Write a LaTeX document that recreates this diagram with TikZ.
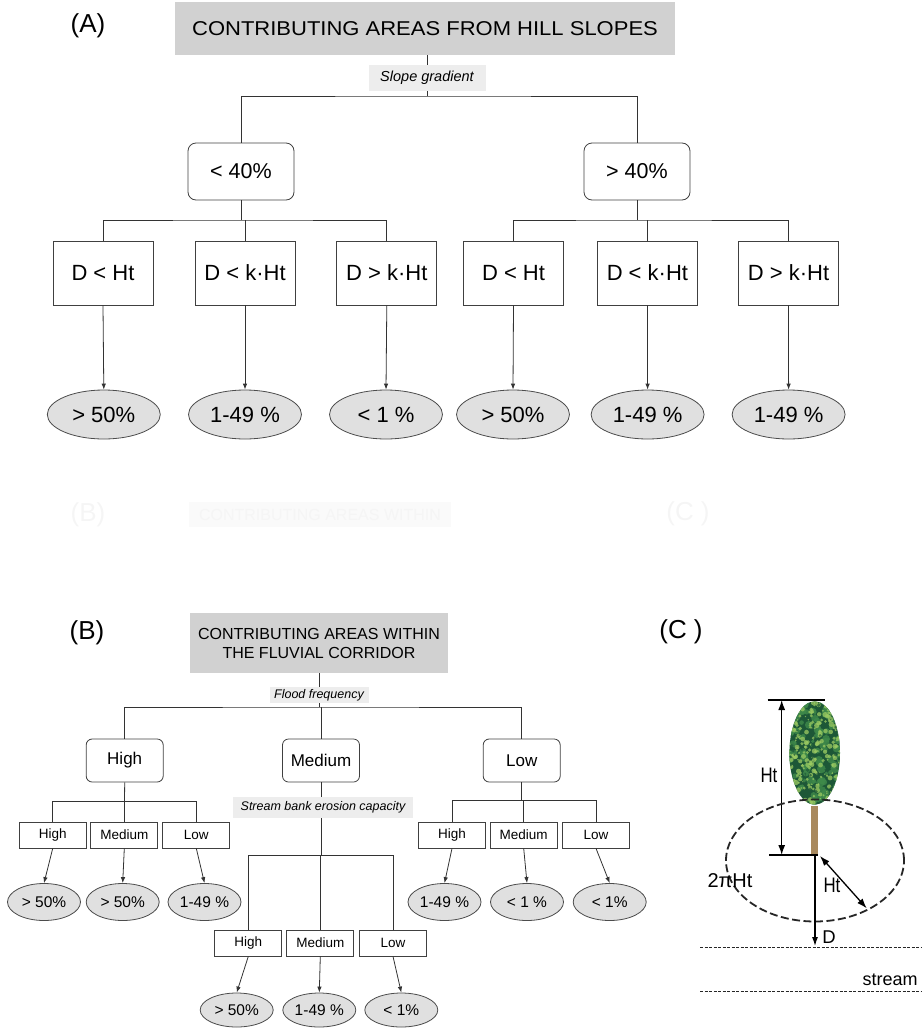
\documentclass[tikz,border=0pt]{standalone}
\usepackage{fontspec}
\setmainfont{Liberation Sans}
\newfontfamily\widesans[FakeStretch=1.1]{Liberation Sans}
\newfontfamily\narrowsans[FakeStretch=0.8]{Liberation Sans}
\usepackage{tikz}
\usetikzlibrary{shapes.geometric}
\usetikzlibrary{arrows.meta}

\definecolor{crowndark}{HTML}{1D5737}
\definecolor{crownmid}{HTML}{3F8A4A}
\definecolor{crownlight}{HTML}{9CCB62}
\definecolor{trunkbrown}{HTML}{A8895E}

\tikzset{
  panel/.style={font=\fontsize{26}{30}\selectfont},
  headbox/.style={fill=black!18, inner sep=0pt},
  cond/.style={draw=black!75, rounded corners=8pt, minimum width=106pt, minimum height=57pt, font=\fontsize{21.5}{25}\selectfont},
  crit/.style={draw=black!75, minimum width=100pt, minimum height=64pt, inner sep=0pt, font=\fontsize{22}{26}\selectfont},
  share/.style={ellipse, draw=black!70, fill=black!12, minimum width=113pt, minimum height=49pt, inner sep=0pt, font=\fontsize{22}{26}\selectfont},
  factor/.style={fill=black!7, inner sep=0pt, font=\fontsize{14.5}{17}\selectfont\itshape},
  condsm/.style={draw=black!75, rounded corners=6pt, minimum width=77pt, minimum height=43pt, font=\fontsize{17}{20}\selectfont},
  critsm/.style={draw=black!75, minimum width=67pt, minimum height=26pt, inner sep=0pt, font=\fontsize{13.5}{16}\selectfont},
  sharesm/.style={ellipse, draw=black!70, fill=black!12, minimum width=73pt, minimum height=37pt, inner sep=0pt, font=\fontsize{15.5}{18}\selectfont},
  factorsm/.style={fill=black!7, inner sep=0pt, font=\fontsize{12.5}{15}\selectfont\itshape},
  ghost/.style={text=black!4},
  flow/.style={-{Latex[length=6pt,width=4.5pt]}},
  bar/.style={line width=1.6pt},
  measure/.style={line width=1.3pt, {Latex[length=10pt,width=7pt]}-{Latex[length=10pt,width=7pt]}},
}

\begin{document}
\begin{tikzpicture}[x=1pt, y=-1pt, line width=0.8pt, draw=black!80]
  \useasboundingbox (0,0) rectangle (921,1028);

  % (A) hill slopes
  \node[panel] (labA) at (88,26) {(A)};
  \node[headbox, minimum width=500pt, minimum height=53pt, font=\widesans\fontsize{20}{24}\selectfont] (headA) at (425,28.5) {CONTRIBUTING AREAS FROM HILL SLOPES};
  \node[cond] (lowgrad) at (241,171.5) {< 40\%};
  \node[cond] (highgrad) at (637,171.5) {> 40\%};
  \node[crit] (a1) at (103,273) {D < Ht};
  \node[crit] (a2) at (245,273) {D < k·Ht};
  \node[crit] (a3) at (386.8,273) {D > k·Ht};
  \node[crit] (a4) at (513.5,273) {D < Ht};
  \node[crit] (a5) at (647.4,273) {D < k·Ht};
  \node[crit] (a6) at (788.5,273) {D > k·Ht};
  \node[share] (ra1) at (103.8,414.5) {> 50\%};
  \node[share] (ra2) at (245,414.5) {1-49 \%};
  \node[share] (ra3) at (386,414.5) {< 1 \%};
  \node[share] (ra4) at (513,414.5) {> 50\%};
  \node[share] (ra5) at (647.6,414.5) {1-49 \%};
  \node[share] (ra6) at (788.6,414.5) {1-49 \%};

  \coordinate (forkA) at (427,96);
  \coordinate (forkA1) at (241,220);
  \coordinate (forkA2) at (637,220);
  \draw (headA.south -| forkA) -- (forkA);
  \draw (lowgrad.north) |- (forkA) -| (highgrad.north);
  \draw (lowgrad.south) -- (forkA1);
  \draw (a1.north) |- (forkA1) -| (a3.north);
  \draw (a2.north) -- (a2.north |- forkA1);
  \draw (highgrad.south) -- (forkA2);
  \draw (a4.north) |- (forkA2) -| (a6.north);
  \draw (a5.north) -- (a5.north |- forkA2);
  \draw[flow] (a1.south) -- (ra1.north);
  \draw[flow] (a2.south) -- (ra2.north);
  \draw[flow] (a3.south) -- (ra3.north);
  \draw[flow] (a4.south) -- (ra4.north);
  \draw[flow] (a5.south) -- (ra5.north);
  \draw[flow] (a6.south) -- (ra6.north);
  \node[factor, minimum width=117pt, minimum height=26pt] (slope) at (427,78) {Slope gradient};

  % faint show-through of the next page
  \node[panel, ghost] (ghostB) at (88,515) {(B)};
  \node[fill=black!2, minimum width=262pt, minimum height=25pt, ghost, font=\fontsize{16}{19}\selectfont] (ghosthead) at (320,514.5) {CONTRIBUTING AREAS WITHIN};
  \node[panel, ghost] (ghostC) at (688,514) {(C )};

  % (B) fluvial corridor
  \node[panel] (labB) at (87,633) {(B)};
  \node[headbox, minimum width=258pt, minimum height=60pt, align=center, font=\fontsize{16}{19}\selectfont] (headB) at (319,643) {CONTRIBUTING AREAS WITHIN\\ THE FLUVIAL CORRIDOR};
  \node[condsm] (hB) at (124.7,760.5) {High};
  \node[condsm] (mB) at (321,760.5) {Medium};
  \node[condsm] (lB) at (521.7,760.5) {Low};
  \node[critsm] (hh) at (52.7,835) {High};
  \node[critsm] (hm) at (124.3,835) {Medium};
  \node[critsm] (hl) at (196.3,835) {Low};
  \node[critsm] (mh) at (248.3,943) {High};
  \node[critsm] (mm) at (320.3,943) {Medium};
  \node[critsm] (ml) at (393,943) {Low};
  \node[critsm] (lh) at (452,835) {High};
  \node[critsm] (lm) at (523.7,835) {Medium};
  \node[critsm] (ll) at (596,835) {Low};
  \node[sharesm] (rhh) at (44,902) {> 50\%};
  \node[sharesm] (rhm) at (122.7,902) {> 50\%};
  \node[sharesm] (rhl) at (204.5,902) {1-49 \%};
  \node[sharesm, minimum height=34pt] (rmh) at (236.7,1010) {> 50\%};
  \node[sharesm, minimum height=34pt] (rmm) at (319.3,1010) {1-49 \%};
  \node[sharesm, minimum height=34pt] (rml) at (401.3,1010) {< 1\%};
  \node[sharesm] (rlh) at (444.5,902) {1-49 \%};
  \node[sharesm] (rlm) at (527,902) {< 1 \%};
  \node[sharesm] (rll) at (609.7,902) {< 1\%};

  \coordinate (forkB) at (319,707);
  \coordinate (forkBh) at (124.5,801.7);
  \coordinate (forkBm) at (321,855.7);
  \coordinate (forkBl) at (521.7,800.7);
  \draw (headB.south) -- (forkB);
  \draw (hB.north) |- (forkB) -| (lB.north);
  \draw (mB.north) -- (mB.north |- forkB);
  \draw (hB.south) -- (forkBh);
  \draw (hh.north) |- (forkBh) -| (hl.north);
  \draw (hm.north) -- (hm.north |- forkBh);
  \draw (mB.south) -- (forkBm);
  \draw (mh.north) |- (forkBm) -| (ml.north);
  \draw (mm.north) -- (mm.north |- forkBm);
  \draw (lB.south) -- (forkBl);
  \draw (lh.north) |- (forkBl) -| (ll.north);
  \draw (lm.north) -- (lm.north |- forkBl);
  \draw[flow] (hh.south) -- (rhh.north);
  \draw[flow] (hm.south) -- (rhm.north);
  \draw[flow] (hl.south) -- (rhl.north);
  \draw[flow] (mh.south) -- (rmh.north);
  \draw[flow] (mm.south) -- (rmm.north);
  \draw[flow] (ml.south) -- (rml.north);
  \draw[flow] (lh.south) -- (rlh.north);
  \draw[flow] (lm.south) -- (rlm.north);
  \draw[flow] (ll.south) -- (rll.north);
  \node[factorsm, minimum width=99pt, minimum height=16pt] (flood) at (319,695) {Flood frequency};
  \node[factorsm, minimum width=180pt, minimum height=21pt] (bank) at (323,807.7) {Stream bank erosion capacity};

  % (C) tree and stream
  \node[panel] (labC) at (681,632) {(C )};
  \begin{scope}
    \clip (814.7,753) ellipse [x radius=25.3pt, y radius=51.7pt];
    \fill[crowndark] (788,700) rectangle (842,806);
    \pgfmathsetseed{12}
    \foreach \i in {1,...,120}
      \fill[crownmid, opacity=0.8] ({814.7+27*rand},{753+53*rand}) circle [radius={1.5pt+3pt*rnd}];
    \foreach \i in {1,...,260}
      \fill[crownlight, opacity=0.75] ({814.7+27*rand},{753+53*rand}) circle [radius={0.7pt+2pt*rnd}];
    \foreach \i in {1,...,90}
      \fill[crowndark, opacity=0.7] ({814.7+27*rand},{753+53*rand}) circle [radius={0.6pt+1.4pt*rnd}];
  \end{scope}
  \fill[trunkbrown] (811,806) rectangle (818.3,855);

  \coordinate (topL) at (767.7,700);
  \coordinate (topR) at (825,700);
  \coordinate (baseL) at (769.3,855);
  \coordinate (baseR) at (818.3,855);
  \coordinate (htTop) at (781.7,700);
  \coordinate (htBase) at (781.7,855);
  \coordinate (root) at (815,855);
  \coordinate (bankPt) at (815,946);
  \coordinate (radStart) at (820,856);
  \coordinate (radEnd) at (866.7,908.3);
  \coordinate (bankL) at (700,947.3);
  \coordinate (bankR) at (921,947.3);
  \coordinate (streamL) at (700,991.7);
  \coordinate (streamR) at (921,991.7);

  \draw[bar, black] (topL) -- (topR);
  \draw[bar, black] (baseL) -- (baseR);
  \draw[measure, black] (htTop) -- (htBase);
  \draw[line width=1.8pt, black!85, dash pattern=on 8pt off 3.5pt] (815,860.5) ellipse [x radius=89pt, y radius=61pt];
  \draw[line width=1.1pt, black, -{Latex[length=9pt,width=6pt]}] (root) -- (bankPt);
  \draw[measure, black] (radStart) -- (radEnd);
  \draw[line width=0.9pt, black!85, dash pattern=on 3pt off 1.5pt] (bankL) -- (bankR);
  \draw[line width=0.9pt, black!85, dash pattern=on 3pt off 1.5pt] (streamL) -- (streamR);

  \node[font=\narrowsans\fontsize{21}{24}\selectfont] (htlab) at (769,775) {Ht};
  \node[font=\narrowsans\fontsize{21}{24}\selectfont] (radlab) at (832,885) {Ht};
  \node[font=\fontsize{18.5}{22}\selectfont] (dlab) at (829,937) {D};
  \node[font=\fontsize{20}{24}\selectfont] (circlab) at (730,881) {2πHt};
  \node[font=\fontsize{18}{22}\selectfont] (streamlab) at (890,980) {stream};
\end{tikzpicture}
\end{document}
